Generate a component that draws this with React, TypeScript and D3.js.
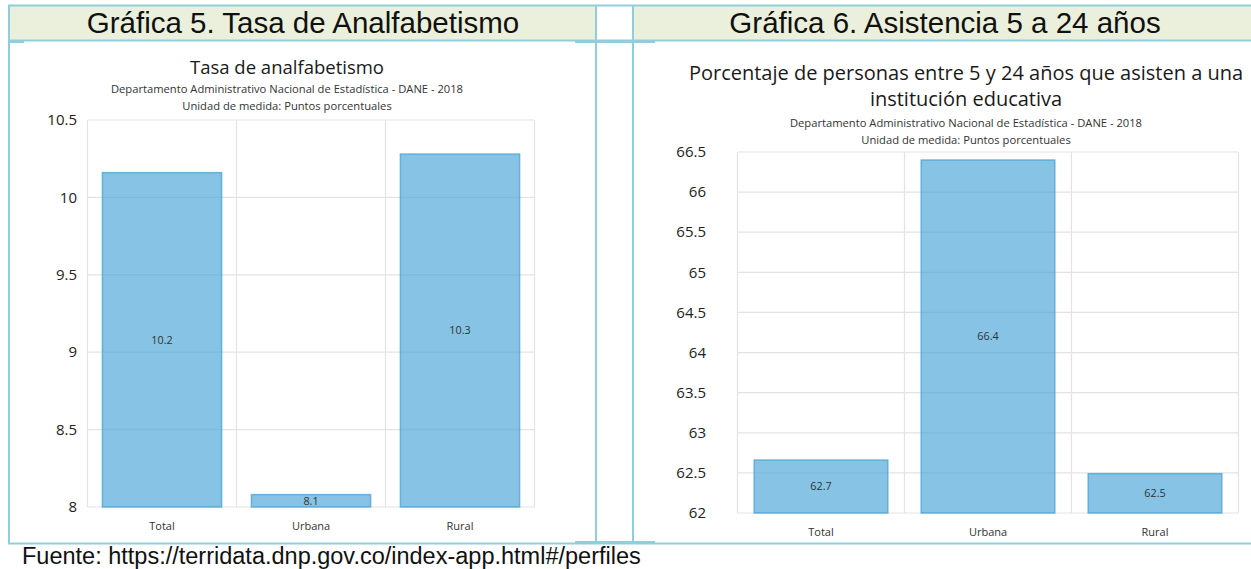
import React from "react";
import * as d3 from "d3";

// ---------- data ----------
const categories = ["Total", "Urbana", "Rural"];
const analfabetismoValues = [10.16, 8.08, 10.28];
const analfabetismoTicks = [8, 8.5, 9, 9.5, 10, 10.5];
const asistenciaValues = [62.66, 66.4, 62.49];
const asistenciaTicks = [62, 62.5, 63, 63.5, 64, 64.5, 65, 65.5, 66, 66.5];

const headerLeft = "Gráfica 5. Tasa de Analfabetismo";
const headerRight = "Gráfica 6. Asistencia 5 a 24 años";
const footerText = "Fuente: https://terridata.dnp.gov.co/index-app.html#/perfiles";
const titleLeft = ["Tasa de analfabetismo"];
const titleRight = ["Porcentaje de personas entre 5 y 24 años que asisten a una", "institución educativa"];
const subtitleLines = [
  "Departamento Administrativo Nacional de Estadística - DANE - 2018",
  "Unidad de medida: Puntos porcentuales",
];

const W = 1251;
const H = 569;
const BORDER = "#92cddc";
const HEADER_BG = "#ebf0dc";
const FONT = "'Open Sans', 'Noto Sans', sans-serif";
const ARIAL = "'Liberation Sans', Arial, sans-serif";

type ChartProps = {
  values: number[];
  ticks: number[];
  x0: number;
  x1: number;
  y0: number;
  y1: number;
  tickEnd: number;
  catY: number;
  titles: string[];
  titleY: number[];
  titleSize: number;
  subY: number[];
  cx: number;
};

function BarChart(p: ChartProps) {
  const x = d3.scaleBand<string>().domain(categories).range([p.x0, p.x1]).paddingInner(0.2).paddingOuter(0.1);
  const band = d3.scaleBand<string>().domain(categories).range([p.x0, p.x1]);
  const y = d3.scaleLinear().domain([p.ticks[0], p.ticks[p.ticks.length - 1]]).range([p.y1, p.y0]);
  const fmt = d3.format(".1f");
  const bounds = categories.map((c) => band(c) as number).concat([p.x1]);
  return (
    <g>
      {p.titles.map((t, i) => (
        <text key={"t" + i} x={p.cx} y={p.titleY[i]} textAnchor="middle" fontFamily={FONT} fontSize={p.titleSize} fill="#1a1a1a">
          {t}
        </text>
      ))}
      {subtitleLines.map((t, i) => (
        <text key={"s" + i} x={p.cx} y={p.subY[i]} textAnchor="middle" fontFamily={FONT} fontSize={11.2} fill="#333">
          {t}
        </text>
      ))}
      {p.ticks.map((t) => (
        <g key={"g" + t}>
          <line x1={p.x0} x2={p.x1} y1={y(t)} y2={y(t)} stroke="#e3e3e3" strokeWidth={1.2} />
          <text x={p.tickEnd} y={y(t)} dy="0.35em" textAnchor="end" fontFamily={FONT} fontSize={15} fill="#222">
            {String(t)}
          </text>
        </g>
      ))}
      {bounds.map((b, i) => (
        <line key={"v" + i} x1={b} x2={b} y1={p.y0} y2={p.y1} stroke="#e3e3e3" strokeWidth={1.2} />
      ))}
      {categories.map((c, i) => {
        const bx = x(c) as number;
        const by = y(p.values[i]);
        const bh = p.y1 - by;
        return (
          <g key={c}>
            <rect x={bx} y={by} width={x.bandwidth()} height={bh} fill="rgba(77,166,216,0.68)" stroke="rgba(77,166,216,0.8)" strokeWidth={1.5} />
            <text x={bx + x.bandwidth() / 2} y={by + bh / 2} dy="0.35em" textAnchor="middle" fontFamily={FONT} fontSize={10.8} fill="#333">
              {fmt(p.values[i])}
            </text>
            <text x={bx + x.bandwidth() / 2} y={p.catY} textAnchor="middle" fontFamily={FONT} fontSize={11} fill="#333">
              {c}
            </text>
          </g>
        );
      })}
    </g>
  );
}

export default function App() {
  return (
    <svg width={W} height={H} style={{ position: "absolute", left: 0, top: 0, background: "#fff" }}>
      {/* header backgrounds */}
      <rect x={9} y={5.5} width={587} height={35} fill={HEADER_BG} />
      <rect x={633} y={5.5} width={W - 633} height={35} fill={HEADER_BG} />
      <text x={303} y={33} textAnchor="middle" fontFamily={ARIAL} fontSize={29.5} fill="#111">
        {headerLeft}
      </text>
      <text x={945} y={33} textAnchor="middle" fontFamily={ARIAL} fontSize={29.5} fill="#111">
        {headerRight}
      </text>

      <BarChart
        values={analfabetismoValues}
        ticks={analfabetismoTicks}
        x0={87.5}
        x1={534.5}
        y0={120}
        y1={507}
        tickEnd={77}
        catY={530}
        titles={titleLeft}
        titleY={[74]}
        titleSize={18.5}
        subY={[93, 110]}
        cx={287}
      />
      <BarChart
        values={asistenciaValues}
        ticks={asistenciaTicks}
        x0={737.5}
        x1={1238.5}
        y0={152}
        y1={513}
        tickEnd={706}
        catY={536}
        titles={titleRight}
        titleY={[80, 106]}
        titleSize={20}
        subY={[127, 144]}
        cx={966}
      />

      {/* table borders */}
      <g stroke={BORDER} strokeWidth={2} fill="none">
        <line x1={8} x2={W} y1={5.5} y2={5.5} />
        <line x1={8} x2={W} y1={40.5} y2={40.5} />
        <line x1={8} x2={W} y1={543.5} y2={543.5} />
        <line x1={9} x2={9} y1={5} y2={544} />
        <line x1={596} x2={596} y1={5} y2={544} />
        <line x1={633} x2={633} y1={5} y2={544} />
        <line x1={575} x2={655} y1={42} y2={42} />
        <line x1={575} x2={655} y1={542} y2={542} />
        <line x1={9} x2={24} y1={42} y2={42} />
      </g>

      <text x={22} y={564} fontFamily={ARIAL} fontSize={23.5} fill="#111">
        {footerText}
      </text>
    </svg>
  );
}
